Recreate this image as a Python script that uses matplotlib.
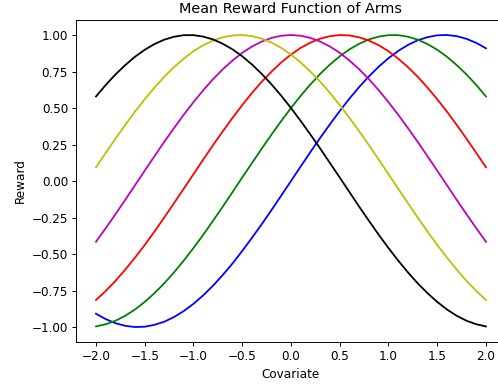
import matplotlib
matplotlib.use("Agg")
import matplotlib.pyplot as plt

# covariate grid and mean reward of each arm
covariate = [-2.0, -1.9, -1.8, -1.7, -1.6, -1.5, -1.4, -1.3, -1.2, -1.1, -1.0,
             -0.9, -0.8, -0.7, -0.6, -0.5, -0.4, -0.3, -0.2, -0.1, 0.0,
             0.1, 0.2, 0.3, 0.4, 0.5, 0.6, 0.7, 0.8, 0.9, 1.0,
             1.1, 1.2, 1.3, 1.4, 1.5, 1.6, 1.7, 1.8, 1.9, 2.0]

arm_blue = [-0.909, -0.946, -0.974, -0.992, -1.000, -0.998, -0.985, -0.964, -0.932, -0.891, -0.841,
            -0.783, -0.717, -0.644, -0.565, -0.479, -0.389, -0.296, -0.199, -0.100, 0.000,
            0.100, 0.199, 0.296, 0.389, 0.479, 0.565, 0.644, 0.717, 0.783, 0.841,
            0.891, 0.932, 0.964, 0.985, 0.998, 1.000, 0.992, 0.974, 0.946, 0.909]
arm_green = [-0.996, -0.981, -0.957, -0.923, -0.880, -0.828, -0.768, -0.701, -0.626, -0.545, -0.459,
             -0.368, -0.273, -0.176, -0.076, 0.024, 0.123, 0.222, 0.318, 0.411, 0.500,
             0.584, 0.662, 0.734, 0.798, 0.854, 0.902, 0.940, 0.970, 0.989, 0.999,
             0.999, 0.988, 0.968, 0.938, 0.899, 0.851, 0.794, 0.730, 0.658, 0.579]
arm_red = [-0.815, -0.753, -0.684, -0.607, -0.525, -0.438, -0.346, -0.250, -0.152, -0.053, 0.047,
           0.147, 0.245, 0.340, 0.432, 0.520, 0.603, 0.680, 0.749, 0.812, 0.866,
           0.912, 0.948, 0.975, 0.992, 1.000, 0.997, 0.984, 0.962, 0.930, 0.889,
           0.838, 0.780, 0.714, 0.640, 0.560, 0.475, 0.384, 0.290, 0.193, 0.094]
arm_magenta = [-0.416, -0.323, -0.227, -0.129, -0.029, 0.071, 0.170, 0.268, 0.362, 0.454, 0.540,
               0.622, 0.697, 0.765, 0.825, 0.878, 0.921, 0.955, 0.980, 0.995, 1.000,
               0.995, 0.980, 0.955, 0.921, 0.878, 0.825, 0.765, 0.697, 0.622, 0.540,
               0.454, 0.362, 0.268, 0.170, 0.071, -0.029, -0.129, -0.227, -0.323, -0.416]
arm_yellow = [0.094, 0.193, 0.290, 0.384, 0.475, 0.560, 0.640, 0.714, 0.780, 0.838, 0.889,
              0.930, 0.962, 0.984, 0.997, 1.000, 0.992, 0.975, 0.948, 0.912, 0.866,
              0.812, 0.749, 0.680, 0.603, 0.520, 0.432, 0.340, 0.245, 0.147, 0.047,
              -0.053, -0.152, -0.250, -0.346, -0.438, -0.525, -0.607, -0.684, -0.753, -0.815]
arm_black = [0.579, 0.658, 0.730, 0.794, 0.851, 0.899, 0.938, 0.968, 0.988, 0.999, 0.999,
             0.989, 0.970, 0.940, 0.902, 0.854, 0.798, 0.734, 0.662, 0.584, 0.500,
             0.411, 0.318, 0.222, 0.123, 0.024, -0.076, -0.176, -0.273, -0.368, -0.459,
             -0.545, -0.626, -0.701, -0.768, -0.828, -0.880, -0.923, -0.957, -0.981, -0.996]

arms = [arm_blue, arm_green, arm_red, arm_magenta, arm_yellow, arm_black]
colors = ['b', 'g', 'r', 'm', 'y', 'k']

# the reference looks like a default figure shrunk a bit, so use a lower dpi
dpi = 86.5
fig = plt.figure(figsize=(498 / dpi, 385 / dpi), dpi=dpi)
ax = fig.add_subplot(1, 1, 1)
for arm, c in zip(arms, colors):
    ax.plot(covariate, arm, color=c)

ax.set_title('Mean Reward Function of Arms')
ax.set_xlabel('Covariate')
ax.set_ylabel('Reward')
# the original picture is cropped on the right, so the axes run past the edge
fig.subplots_adjust(left=0.1536, right=1.015, bottom=0.1127, top=0.947)
fig.savefig('out.png', dpi=dpi)
